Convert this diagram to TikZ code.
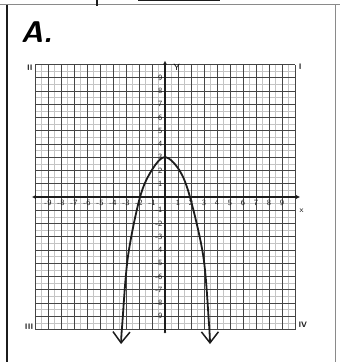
\documentclass[tikz,border=0pt]{standalone}
\usepackage{tikz}
\usepackage{xcolor}
\usetikzlibrary{arrows.meta}
\definecolor{Ink}{HTML}{1C1C1C}
\definecolor{GridMajor}{HTML}{454545}
\definecolor{GridMinor}{HTML}{C4C4C4}
\definecolor{Edge}{HTML}{8A8A8A}

\begin{document}
\begin{tikzpicture}[
  x=1pt,y=-1pt,
  tick/.style={font=\fontsize{8}{8}\selectfont\sffamily,inner sep=0pt,text=Ink},
  quad/.style={font=\fontsize{8}{8}\selectfont\sffamily\bfseries,inner sep=0pt,text=Ink},
  axis/.style={line width=1.1pt,draw=Ink},
  curve/.style={line width=1.8pt,draw=Ink,line cap=round,line join=round},
  barb/.style={{Straight Barb[length=11pt,width=17pt,line width=1.5pt]}-{Straight Barb[length=11pt,width=17pt,line width=1.5pt]}}
]
\useasboundingbox (0,0) rectangle (340,362);
% answer box
\draw[line width=1pt,draw=Edge] (0,4.5) -- (340,4.5);
\draw[line width=2pt,draw=Ink] (6.5,4.5) -- (6.5,362);
\draw[line width=0.8pt,draw=Edge] (335,4.5) -- (335,362);
\draw[line width=2pt,draw=Ink] (97,0) -- (97,6);
\draw[line width=1.5pt,draw=Ink] (138,0.6) -- (220,0.6);
\node[font=\fontsize{30}{30}\selectfont\sffamily\bfseries\slshape,anchor=base west,inner sep=0pt] (title) at (21,42) {A.};

\begin{scope}[shift={(165,197)},x=13pt,y=13.25pt]
% grid
\foreach \i in {-19,-17,...,19} {
  \draw[GridMinor,line width=0.35pt] (\i/2,-10) -- (\i/2,10);
  \draw[GridMinor,line width=0.35pt] (-10,\i/2) -- (10,\i/2);
}
\foreach \i in {-10,...,10} {
  \draw[GridMajor,line width=0.8pt] (\i,-10) -- (\i,10);
  \draw[GridMajor,line width=0.8pt] (-10,\i) -- (10,\i);
}
% axes
\draw[axis,{Latex[length=4pt,width=4pt]}-{Latex[length=4pt,width=4pt]}] (-10.25,0) -- (10.4,0);
\draw[axis,-{Latex[length=4pt,width=4pt]}] (0,-10.2) -- (0,10.3);
\fill[Ink] (0,-10.2) circle (1.3pt);
\foreach \i in {-9,...,-1,1,2,...,9} {
  \node[tick] (xl\i) at (\i,-0.45) {\i};
  \node[tick,anchor=east] (yl\i) at (-0.18,\i) {\i};
}
\node[font=\fontsize{9}{9}\selectfont\sffamily,inner sep=0pt] (ylab) at (0.9,9.8) {Y};
\node[font=\fontsize{8}{8}\selectfont\sffamily,inner sep=0pt] (xlab) at (10.5,-1.0) {x};
% quadrants
\node[quad] (q2) at (-10.4,9.75) {II};
\node[quad] (q1) at (10.4,9.85) {I};
\node[quad] (q3) at (-10.45,-9.8) {III};
\node[quad] (q4) at (10.6,-9.65) {IV};
% parabola
\draw[curve,barb] plot[smooth,tension=0.55] coordinates {
  (-3.38,-11.1) (-3.28,-9.5) (-2.85,-4.5) (-1.92,0) (-1,2.05) (0,3.02)
  (1.12,2.0) (1.92,0) (2.95,-4.5) (3.38,-9.5) (3.46,-11.1)};
\end{scope}
\end{tikzpicture}
\end{document}
